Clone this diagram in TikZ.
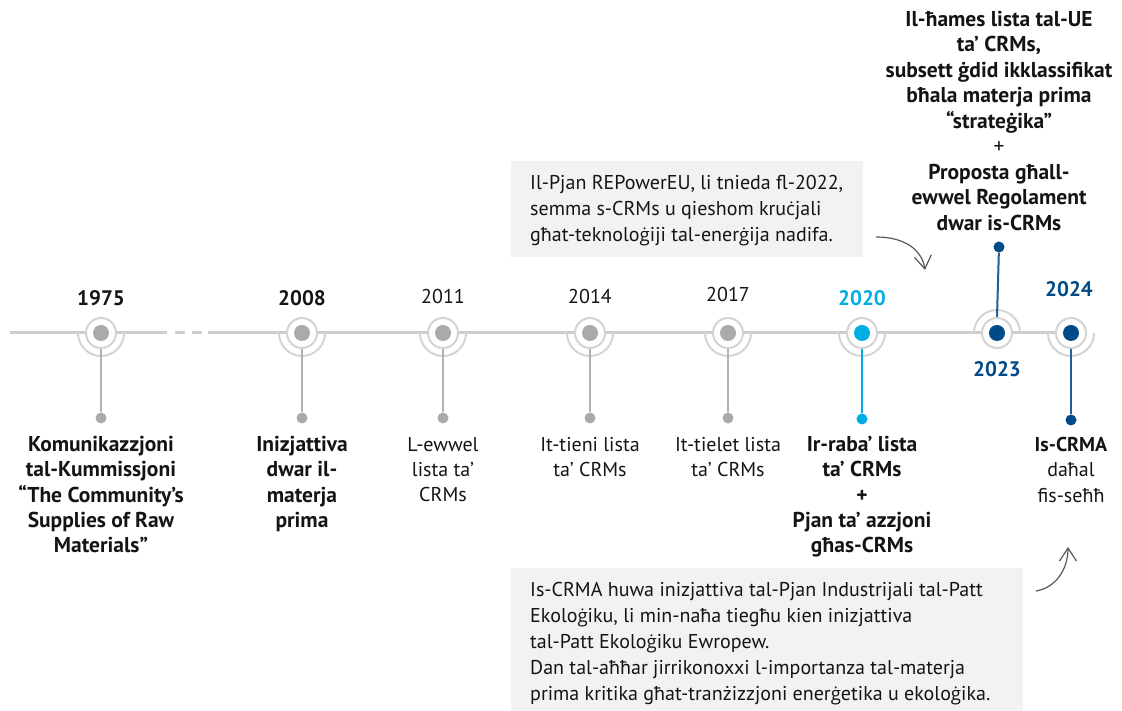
\documentclass[tikz,border=0pt]{standalone}
\usepackage{fontspec}
\setmainfont{PT Sans}
\newfontfamily\altfont{Open Sans}[Scale=0.93]
\newcommand{\gdt}{{\altfont ġ}}
\newcommand{\cdt}{{\altfont ċ}}
\usetikzlibrary{arrows.meta}
\definecolor{linegray}{RGB}{206,206,206}
\definecolor{ringgray}{RGB}{212,212,212}
\definecolor{dotgray}{RGB}{170,170,170}
\definecolor{stemgray}{RGB}{178,178,178}
\definecolor{cyanc}{RGB}{0,174,226}
\definecolor{navy}{RGB}{0,75,135}
\definecolor{navystem}{RGB}{35,95,150}
\definecolor{boxgray}{RGB}{242,242,242}
\definecolor{arrowgray}{RGB}{88,88,88}
\definecolor{txt}{RGB}{20,20,20}
\begin{document}
\begin{tikzpicture}[x=1pt,y=1pt,
  tline/.style={draw=linegray, line width=3pt},
  ring/.style={circle, draw=ringgray, line width=2pt, fill=white, minimum size=30pt, inner sep=0pt},
  outerarc/.style={draw=ringgray, line width=2pt},
  core/.style={circle, fill=#1, minimum size=16pt, inner sep=0pt},
  stemline/.style={draw=#1, line width=2pt},
  enddot/.style={circle, fill=#1, minimum size=11pt, inner sep=0pt},
  yearlbl/.style={anchor=base, inner sep=0pt, text=txt, font=\fontsize{20}{24}\selectfont},
  yearbold/.style={yearlbl, font=\fontsize{21}{24}\selectfont\bfseries},
  lbl/.style={anchor=north, align=center, inner sep=0pt, text=txt, font=\fontsize{20}{25.3}\selectfont},
  boldlbl/.style={lbl, font=\fontsize{21.5}{25.3}\selectfont\bfseries},
  toplbl/.style={lbl, font=\fontsize{21.5}{25.5}\selectfont\bfseries},
  infobox/.style={fill=boxgray, anchor=south west, inner sep=0pt},
  boxtxt/.style={anchor=north west, align=left, inner sep=0pt, text=txt, font=\fontsize{20}{25.9}\selectfont},
  curvarrow/.style={draw=arrowgray, line width=1.2pt, -{Straight Barb[length=13pt,width=17pt,line width=1.2pt]}},
]
\useasboundingbox (0,0) rectangle (1122,711);
% info boxes
\node[infobox, minimum width=352pt, minimum height=96pt] (box1) at (511,454) {};
\node[infobox, minimum width=512pt, minimum height=143pt] (box2) at (511,0) {};
% timeline
\coordinate (lstart) at (10,378);
\coordinate (dA) at (167,378);
\coordinate (dB) at (175,378);
\coordinate (dC) at (185,378);
\coordinate (dD) at (192,378);
\coordinate (dE) at (202,378);
\coordinate (dF) at (208,378);
\coordinate (p1975) at (101,378);
\coordinate (p2008) at (302,378);
\coordinate (p2011) at (443,378);
\coordinate (p2014) at (590,378);
\coordinate (p2017) at (728,378);
\coordinate (p2020) at (862,378);
\coordinate (p2023) at (997,378);
\coordinate (p2024) at (1071,378);
\draw[tline] (lstart) -- (dA);
\draw[tline] (dB) -- (dC);
\draw[tline] (dD) -- (dE);
\draw[tline] (dF) -- (p2008) -- (p2011) -- (p2014) -- (p2017) -- (p2020) -- (p2023) -- (p2024);
% outer arcs
\foreach \p in {p1975,p2008,p2011,p2014,p2017,p2020,p2024}{
  \draw[outerarc] ([xshift=-23pt]\p) arc[start angle=180, end angle=360, radius=23pt];
}
\draw[outerarc] ([xshift=23pt]p2023) arc[start angle=0, end angle=180, radius=23pt];
% rings
\node[ring] (n1975) at (p1975) {};
\node[ring] (n2008) at (p2008) {};
\node[ring] (n2011) at (p2011) {};
\node[ring] (n2014) at (p2014) {};
\node[ring] (n2017) at (p2017) {};
\node[ring] (n2020) at (p2020) {};
\node[ring] (n2023) at (p2023) {};
\node[ring] (n2024) at (p2024) {};
\node[core=dotgray] (c1975) at (p1975) {};
\node[core=dotgray] (c2008) at (p2008) {};
\node[core=dotgray] (c2011) at (p2011) {};
\node[core=dotgray] (c2014) at (p2014) {};
\node[core=dotgray] (c2017) at (p2017) {};
\node[core=cyanc] (c2020) at (p2020) {};
\node[core=navy] (c2023) at (p2023) {};
\node[core=navy] (c2024) at (p2024) {};
% end dots and stems
\node[enddot=dotgray] (d1975) at (101,293) {};
\node[enddot=dotgray] (d2008) at (302,293) {};
\node[enddot=dotgray] (d2011) at (443,293) {};
\node[enddot=dotgray] (d2014) at (590,293) {};
\node[enddot=dotgray] (d2017) at (728,293) {};
\node[enddot=cyanc] (d2020) at (862,292) {};
\node[enddot=navy] (d2023) at (999,464) {};
\node[enddot=navy] (d2024) at (1071,291) {};
\draw[stemline=stemgray] (n1975) -- (d1975);
\draw[stemline=stemgray] (n2008) -- (d2008);
\draw[stemline=stemgray] (n2011) -- (d2011);
\draw[stemline=stemgray] (n2014) -- (d2014);
\draw[stemline=stemgray] (n2017) -- (d2017);
\draw[stemline=cyanc] (n2020) -- (d2020);
\draw[stemline=navystem] (n2023.north) -- (d2023);
\draw[stemline=navystem] (n2024) -- (d2024);
% year labels
\node[yearbold] (y1975) at (101,405) {1975};
\node[yearbold] (y2008) at (302,405) {2008};
\node[yearlbl] (y2011) at (443,407) {2011};
\node[yearlbl] (y2014) at (590,407) {2014};
\node[yearlbl] (y2017) at (728,409) {2017};
\node[yearbold, text=cyanc] (y2020) at (862,405) {2020};
\node[yearbold, text=navy] (y2023) at (997,334) {2023};
\node[yearbold, text=navy] (y2024) at (1069,414) {2024};
% bottom labels
\node[boldlbl] (t1975) at (101,275) {Komunikazzjoni\\tal-Kummissjoni\\“The Community’s\\Supplies of Raw\\Materials”};
\node[boldlbl] (t2008) at (302,275) {Inizjattiva\\dwar il-\\materja\\prima};
\node[lbl] (t2011) at (443,274) {L-ewwel\\lista ta’\\CRMs};
\node[lbl] (t2014) at (590,274) {It-tieni lista\\ta’ CRMs};
\node[lbl] (t2017) at (728,274) {It-tielet lista\\ta’ CRMs};
\node[boldlbl] (t2020) at (862,275) {Ir-raba’ lista\\ta’ CRMs\\+\\Pjan ta’ azzjoni\\għas-CRMs};
\node[lbl] (t2024) at (1071,274) {\textbf{Is-CRMA}\\daħal\\fis-seħħ};
% top label 2023
\node[toplbl] (t2023) at (999,700) {Il-ħames lista tal-UE\\ta’ CRMs,\\subsett \gdt{}did ikklassifikat\\bħala materja prima\\“strate\gdt{}ika”\\\textmd{+}\\Proposta għall-\\ewwel Regolament\\dwar is-CRMs};
% box texts
\node[boxtxt] (bt1) at (530,536) {Il-Pjan REPowerEU, li tnieda fl-2022,\\semma s-CRMs u qieshom kru\cdt{}jali\\għat-teknolo\gdt{}iji tal-ener\gdt{}ija nadifa.};
\node[boxtxt] (bt2) at (530,129) {Is-CRMA huwa inizjattiva tal-Pjan Industrijali tal-Patt\\Ekolo\gdt{}iku, li min-naħa tiegħu kien inizjattiva\\tal-Patt Ekolo\gdt{}iku Ewropew.\\Dan tal-aħħar jirrikonoxxi l-importanza tal-materja\\prima kritika għat-tranżizzjoni ener\gdt{}etika u ekolo\gdt{}ika.};
% curved arrows
\coordinate (a1s) at (876,474);
\coordinate (a1e) at (925,441);
\coordinate (a2s) at (1036,120);
\coordinate (a2e) at (1068,164);
\draw[curvarrow] (a1s) .. controls (905,474) and (922,461) .. (a1e);
\draw[curvarrow] (a2s) .. controls (1055,123) and (1068,141) .. (a2e);
\end{tikzpicture}
\end{document}
